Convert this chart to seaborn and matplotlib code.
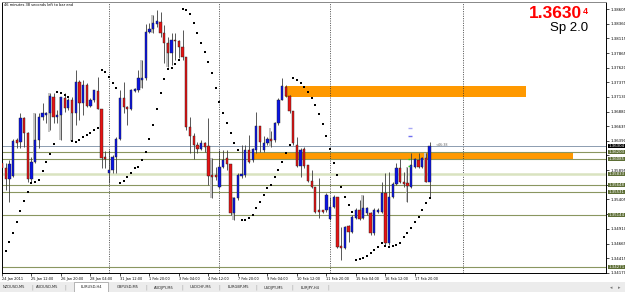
import matplotlib
matplotlib.use("Agg")
import matplotlib.pyplot as plt
import matplotlib.transforms as mtransforms
from matplotlib.patches import Rectangle
import numpy as np
import pandas as pd
import seaborn as sns

sns.set_style("white")
plt.rcParams['font.family'] = ['DejaVu Sans']

# ---------------- data ----------------
BAR = list(range(1, 118))
OPEN = [1.3602,1.3593,1.3575,1.3580,1.3640,1.3637,1.3677,1.3652,1.3575,1.3603,
        1.3640,1.3679,1.3682,1.3686,1.3713,1.3679,1.3682,1.3711,1.3694,1.3708,
        1.3686,1.3738,1.3703,1.3733,1.3698,1.3708,1.3723,1.3692,1.3612,1.3585,
        1.3590,1.3612,1.3642,1.3711,1.3696,1.3692,1.3723,1.3724,1.3741,1.3745,
        1.3822,1.3827,1.3835,1.3839,1.3820,1.3803,1.3786,1.3808,1.3807,1.3797,
        1.3780,1.3662,1.3647,1.3632,1.3625,1.3635,1.3630,1.3582,1.3582,1.3561,
        1.3595,1.3610,1.3600,1.3518,1.3543,1.3580,1.3582,1.3624,1.3607,1.3624,
        1.3664,1.3624,1.3635,1.3642,1.3640,1.3669,1.3708,1.3729,1.3714,1.3689,
        1.3632,1.3597,1.3625,1.3598,1.3572,1.3561,1.3523,1.3523,1.3523,1.3508,
        1.3528,1.3545,1.3462,1.3459,1.3496,1.3486,1.3509,1.3523,1.3509,1.3518,
        1.3518,1.3484,1.3519,1.3519,1.3551,1.3467,1.3545,1.3567,1.3593,1.3570,
        1.3568,1.3561,1.3595,1.3607,1.3595,1.3610,1.3570]
HIGH = [1.3612,1.3602,1.3607,1.3642,1.3644,1.3686,1.3679,1.3654,1.3612,1.3686,
        1.3686,1.3703,1.3687,1.3719,1.3719,1.3691,1.3713,1.3719,1.3711,1.3713,
        1.3758,1.3741,1.3741,1.3736,1.3711,1.3724,1.3746,1.3693,1.3622,1.3624,
        1.3615,1.3646,1.3724,1.3738,1.3698,1.3726,1.3728,1.3758,1.3775,1.3835,
        1.3837,1.3850,1.3859,1.3855,1.3834,1.3813,1.3820,1.3820,1.3808,1.3825,
        1.3780,1.3679,1.3652,1.3637,1.3640,1.3637,1.3677,1.3610,1.3595,1.3624,
        1.3624,1.3624,1.3600,1.3545,1.3585,1.3632,1.3632,1.3649,1.3627,1.3687,
        1.3664,1.3647,1.3646,1.3656,1.3671,1.3711,1.3745,1.3733,1.3716,1.3689,
        1.3646,1.3627,1.3629,1.3598,1.3590,1.3561,1.3577,1.3523,1.3551,1.3545,
        1.3548,1.3545,1.3494,1.3496,1.3498,1.3514,1.3526,1.3540,1.3548,1.3528,
        1.3519,1.3526,1.3526,1.3570,1.3585,1.3587,1.3570,1.3602,1.3609,1.3587,
        1.3595,1.3618,1.3610,1.3619,1.3612,1.3619,1.3637]
LOW = [1.3585,1.3556,1.3536,1.3578,1.3627,1.3627,1.3629,1.3570,1.3570,1.3602,
       1.3627,1.3674,1.3669,1.3657,1.3669,1.3669,1.3640,1.3687,1.3691,1.3639,
       1.3666,1.3674,1.3682,1.3696,1.3696,1.3704,1.3692,1.3593,1.3593,1.3568,
       1.3585,1.3585,1.3640,1.3686,1.3666,1.3691,1.3721,1.3721,1.3728,1.3741,
       1.3820,1.3820,1.3830,1.3813,1.3770,1.3763,1.3766,1.3775,1.3778,1.3775,
       1.3657,1.3619,1.3609,1.3619,1.3624,1.3620,1.3565,1.3543,1.3573,1.3560,
       1.3593,1.3590,1.3514,1.3506,1.3540,1.3577,1.3578,1.3602,1.3603,1.3619,
       1.3620,1.3620,1.3632,1.3629,1.3637,1.3666,1.3708,1.3713,1.3686,1.3632,
       1.3595,1.3578,1.3593,1.3570,1.3560,1.3518,1.3509,1.3518,1.3519,1.3506,
       1.3526,1.3459,1.3439,1.3457,1.3469,1.3484,1.3508,1.3506,1.3508,1.3514,
       1.3481,1.3481,1.3518,1.3518,1.3464,1.3464,1.3543,1.3565,1.3568,1.3561,
       1.3536,1.3560,1.3593,1.3593,1.3593,1.3570,1.3543]
CLOSE = [1.3593,1.3575,1.3600,1.3639,1.3635,1.3677,1.3652,1.3575,1.3603,1.3640,
         1.3679,1.3686,1.3686,1.3714,1.3679,1.3682,1.3713,1.3694,1.3708,1.3686,
         1.3738,1.3703,1.3733,1.3698,1.3708,1.3724,1.3692,1.3610,1.3609,1.3590,
         1.3612,1.3642,1.3711,1.3696,1.3692,1.3724,1.3726,1.3745,1.3745,1.3822,
         1.3827,1.3837,1.3840,1.3820,1.3803,1.3786,1.3808,1.3807,1.3797,1.3780,
         1.3662,1.3647,1.3632,1.3625,1.3635,1.3629,1.3580,1.3578,1.3578,1.3595,
         1.3607,1.3600,1.3518,1.3543,1.3582,1.3583,1.3624,1.3603,1.3625,1.3664,
         1.3637,1.3635,1.3642,1.3639,1.3669,1.3708,1.3731,1.3714,1.3689,1.3635,
         1.3597,1.3624,1.3597,1.3572,1.3561,1.3519,1.3519,1.3519,1.3548,1.3528,
         1.3545,1.3461,1.3459,1.3494,1.3486,1.3511,1.3523,1.3508,1.3526,1.3526,
         1.3484,1.3523,1.3523,1.3551,1.3467,1.3545,1.3567,1.3593,1.3570,1.3567,
         1.3563,1.3598,1.3609,1.3595,1.3610,1.3570,1.3630]

SAR_BAR = list(range(2, 118))
SAR = [1.3454,1.3469,1.3484,1.3503,1.3521,1.3538,1.3553,1.3568,1.3570,1.3573,
       1.3588,1.3603,1.3617,1.3634,1.3721,1.3719,1.3716,1.3713,1.3639,1.3637,
       1.3640,1.3646,1.3649,1.3652,1.3657,1.3661,1.3758,1.3755,1.3746,1.3736,
       1.3728,1.3568,1.3571,1.3578,1.3585,1.3593,1.3595,1.3607,1.3620,1.3642,
       1.3666,1.3693,1.3719,1.3743,1.3760,1.3761,1.3768,1.3775,1.3860,1.3859,
       1.3852,1.3837,1.3820,1.3803,1.3788,1.3771,1.3753,1.3728,1.3704,1.3686,
       1.3669,1.3652,1.3635,1.3624,1.3506,1.3506,1.3509,1.3514,1.3526,1.3536,
       1.3548,1.3560,1.3565,1.3578,1.3590,1.3603,1.3618,1.3632,1.3745,1.3741,
       1.3736,1.3729,1.3721,1.3711,1.3699,1.3684,1.3667,1.3647,1.3625,1.3602,
       1.3582,1.3561,1.3545,1.3531,1.3519,1.3439,1.3441,1.3442,1.3446,1.3451,
       1.3456,1.3461,1.3467,1.3462,1.3461,1.3462,1.3464,1.3467,1.3477,1.3484,
       1.3493,1.3503,1.3511,1.3523,1.3535,1.3543]

GRAY_BAR = [10, 14, 17, 20, 39, 42, 46, 58, 64, 74, 99, 111, 116]
GRAY_HI = [1.3686, 1.3719, 1.3713, 1.3686, 1.3775, 1.3850, 1.3803, 1.3610, 1.3545, 1.3661, 1.3548, 1.3595, 1.3619]
GRAY_LO = [1.3607, 1.3654, 1.3640, 1.3639, 1.3728, 1.3820, 1.3763, 1.3543, 1.3506, 1.3629, 1.3508, 1.3536, 1.3570]

YTICKS = [1.38605, 1.38360, 1.38115, 1.37865, 1.37620, 1.37375, 1.37130, 1.36880,
          1.36635, 1.36390, 1.36145, 1.35895, 1.35650, 1.35405, 1.35160, 1.34910,
          1.34665, 1.34415, 1.34170]
XTICK_BAR = [1, 9, 17, 25, 33, 41, 49, 57, 65, 73, 81, 89, 97, 105, 113]
XTICK_LABELS = ["24 Jan 2011", "25 Jan 12:00", "26 Jan 20:00", "28 Jan 04:00",
                "31 Jan 12:00", "1 Feb 20:00", "3 Feb 04:00", "4 Feb 12:00",
                "7 Feb 20:00", "9 Feb 04:00", "10 Feb 12:00", "11 Feb 20:00",
                "15 Feb 04:00", "16 Feb 12:00", "17 Feb 20:00"]
SEPARATORS = [30, 60, 90, 126]

BID = 1.36304
LEVELS = [1.36203, 1.36085, 1.35833, 1.35648, 1.35531, 1.35144, 1.34271]
LEVEL_KIND = ["olive", "olive", "pale", "olive", "olive", "olive", "olive"]

ZONE_START = [77.9, 69.2]
ZONE_END = [143.1, 155.9]
ZONE_TOP = [1.37311, 1.36203]
ZONE_BOT = [1.37126, 1.36085]

TABS = ["NZDUSD,M5", "AUDUSD,M5", "EURUSD,H4", "GBPUSD,M5", "AUDJPY,M5",
        "USDCHF,M5", "EURGBP,M5", "USDJPY,M5", "EURJPY,H4"]
ACTIVE_TAB = "EURUSD,H4"

# ---------------- figure ----------------
W, H = 625, 292
fig = plt.figure(figsize=(W / 100, H / 100), dpi=100)
fig.patch.set_facecolor("white")
ax = fig.add_axes([2 / W, 1 - 273 / H, (606 - 2) / W, (273 - 2) / H])
ax.set_facecolor("white")
ax.set_xlim(1.165, 164.85)
ax.set_ylim(1.34170, 1.38723)

df = pd.DataFrame({"bar": BAR, "open": OPEN, "high": HIGH, "low": LOW, "close": CLOSE})
df["bull"] = df["close"] >= df["open"]

BLUE = "#0a14e6"
RED = "#e61414"
OLIVE = "#8a9660"
OLIVE_BOX = "#5d6e35"
SMALL = 2.8

# zones
for x0, x1, top, bot in zip(ZONE_START, ZONE_END, ZONE_TOP, ZONE_BOT):
    ax.add_patch(Rectangle((x0, bot), x1 - x0, top - bot, facecolor="#ff9900",
                           edgecolor="none", zorder=1))

# horizontal levels
for lv, kind in zip(LEVELS, LEVEL_KIND):
    if kind == "pale":
        ax.axhline(lv, color="#d9e3c0", lw=1.8, zorder=1.5)
    else:
        ax.axhline(lv, color=OLIVE, lw=0.8, zorder=1.5)
ax.axhline(BID, color="#8c9cb0", lw=0.7, zorder=1.5)

# separators
for s in SEPARATORS:
    ax.axvline(s, color="#333333", lw=0.6, ls=(0, (1.2, 1.6)), zorder=1.2)

# gray bars
ax.bar(np.array(GRAY_BAR) - 0.3, np.array(GRAY_HI) - np.array(GRAY_LO), bottom=GRAY_LO,
       width=0.45, color="#c4c4c4", edgecolor="none", zorder=2)

# wicks
ax.vlines(df["bar"], df["low"], df["high"], color="#3c3c3c", lw=0.6, zorder=2.5)

# bodies
body_lo = df[["open", "close"]].min(axis=1)
body_h = (df["open"] - df["close"]).abs().clip(lower=0.00009)
colors = np.where(df["bull"], BLUE, RED)
ax.bar(df["bar"], body_h, bottom=body_lo, width=0.62, color=colors,
       edgecolor="#202020", linewidth=0.3, zorder=3)

# parabolic SAR
sns.scatterplot(x=SAR_BAR, y=SAR, ax=ax, color="black", marker="s", s=1.4,
                linewidth=0, legend=False, zorder=4)

# small trade marks
ax.plot([111.7], [1.3661], marker="_", color="#a9a9f5", ms=2.5, mew=1.0, zorder=5)
ax.plot([111.7], [1.3647], marker="_", color="#7070f0", ms=2.5, mew=1.0, zorder=5)
ax.plot([111.3], [1.3609], marker="_", color="#22cc22", ms=2.0, mew=1.0, zorder=5)
ax.plot([111.3], [1.3597], marker="_", color="#22cc22", ms=2.0, mew=1.0, zorder=5)
ax.text(118.5, BID + 0.00012, "<46:38", fontsize=2.4, color="#666666", va="center",
        ha="left", zorder=6)

# axes styling
for sp in ax.spines.values():
    sp.set_color("black")
    sp.set_linewidth(0.7)
ax.spines["top"].set_color("#888888")
ax.yaxis.tick_right()
ax.set_yticks(YTICKS)
box_levels = LEVELS + [BID]
ylabels = []
for v in YTICKS:
    hidden = any(abs(v - b) < 0.0006 for b in box_levels)
    ylabels.append("" if hidden else f"{v:.5f}")
ax.set_yticklabels(ylabels)
ax.tick_params(axis="y", right=True, left=False, length=2, width=0.5, labelsize=SMALL,
               pad=1.0, colors="black")
ax.set_xticks(XTICK_BAR)
ax.set_xticklabels(XTICK_LABELS, ha="left")
ax.tick_params(axis="x", bottom=True, length=2, width=0.5, labelsize=2.5, pad=1.2,
               colors="black")
ax.set_xlabel("")
ax.set_ylabel("")
ax.grid(False)

# price boxes on the axis
trans = mtransforms.blended_transform_factory(ax.transAxes, ax.transData)
for lv, kind in zip(LEVELS, LEVEL_KIND):
    ax.text(1.0035, lv, f"{lv:.5f}", transform=trans, fontsize=SMALL, color="white",
            va="center", ha="left", clip_on=False, zorder=20,
            bbox=dict(boxstyle="square,pad=0.12", fc=OLIVE_BOX, ec="none"))
ax.text(1.0035, BID, f"{BID:.5f}", transform=trans, fontsize=SMALL, color="white",
        va="center", ha="left", clip_on=False, zorder=21,
        bbox=dict(boxstyle="square,pad=0.12", fc="black", ec="none"))

# texts
fig.text(4 / W, 1 - 3 / H, "46 minutes 38 seconds left to bar end", fontsize=2.6,
         color="black", ha="left", va="top")
fig.text(582 / W, 1 - 6 / H, "1.3630", fontsize=12.5, color="#ff0000", weight="bold",
         ha="right", va="top", family="Liberation Sans")
fig.text(583 / W, 1 - 6.5 / H, "4", fontsize=6.5, color="#ff0000", weight="bold",
         ha="left", va="top", family="Liberation Sans")
fig.text(588 / W, 1 - 22 / H, "Sp 2.0", fontsize=9.5, color="black",
         ha="right", va="top", family="Liberation Sans")

# tab bar
tab_ax = fig.add_axes([0, 0, 1, 10 / H])
tab_ax.set_xlim(0, W)
tab_ax.set_ylim(0, 10)
tab_ax.set_facecolor("#ececec")
for sp in tab_ax.spines.values():
    sp.set_visible(False)
tab_ax.set_xticks([])
tab_ax.set_yticks([])
TAB_CENTER = [14, 47, 91, 128, 164, 201, 238, 274, 310]
for name, cx in zip(TABS, TAB_CENTER):
    if name == ACTIVE_TAB:
        tab_ax.add_patch(Rectangle((cx - 17, 0), 34, 10, facecolor="white",
                                   edgecolor="#9a9a9a", lw=0.5))
    else:
        tab_ax.text(cx + 18, 4.5, "|", fontsize=3.5, color="#9a9a9a", ha="center", va="center")
    tab_ax.text(cx, 4.5, name, fontsize=2.6, color="#222222", ha="center", va="center")
tab_ax.text(611, 4.5, "\u25c2", fontsize=3.5, color="#777777", ha="center", va="center")
tab_ax.text(619, 4.5, "\u25b8", fontsize=3.5, color="#777777", ha="center", va="center")

fig.savefig("out.png", dpi=100, facecolor="white")
